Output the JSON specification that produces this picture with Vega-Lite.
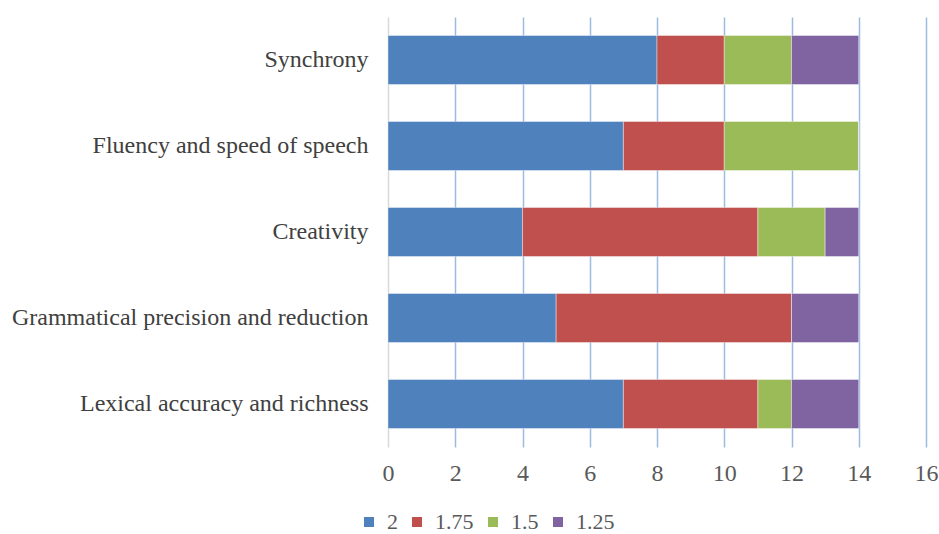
{
  "$schema": "https://vega.github.io/schema/vega-lite/v6.json",
  "width": 538,
  "height": 430,
  "autosize": "none",
  "padding": {"left": 388, "top": 17, "right": 13, "bottom": 87},
  "background": "white",
  "config": {"view": {"stroke": null}, "font": "Liberation Serif"},
  "data": {"values": [
    {"cat": "Synchrony", "series": "2", "s": 1, "v": 8},
    {"cat": "Synchrony", "series": "1.75", "s": 2, "v": 2},
    {"cat": "Synchrony", "series": "1.5", "s": 3, "v": 2},
    {"cat": "Synchrony", "series": "1.25", "s": 4, "v": 2},
    {"cat": "Fluency and speed of speech", "series": "2", "s": 1, "v": 7},
    {"cat": "Fluency and speed of speech", "series": "1.75", "s": 2, "v": 3},
    {"cat": "Fluency and speed of speech", "series": "1.5", "s": 3, "v": 4},
    {"cat": "Fluency and speed of speech", "series": "1.25", "s": 4, "v": 0},
    {"cat": "Creativity", "series": "2", "s": 1, "v": 4},
    {"cat": "Creativity", "series": "1.75", "s": 2, "v": 7},
    {"cat": "Creativity", "series": "1.5", "s": 3, "v": 2},
    {"cat": "Creativity", "series": "1.25", "s": 4, "v": 1},
    {"cat": "Grammatical precision and reduction", "series": "2", "s": 1, "v": 5},
    {"cat": "Grammatical precision and reduction", "series": "1.75", "s": 2, "v": 7},
    {"cat": "Grammatical precision and reduction", "series": "1.5", "s": 3, "v": 0},
    {"cat": "Grammatical precision and reduction", "series": "1.25", "s": 4, "v": 2},
    {"cat": "Lexical accuracy and richness", "series": "2", "s": 1, "v": 7},
    {"cat": "Lexical accuracy and richness", "series": "1.75", "s": 2, "v": 4},
    {"cat": "Lexical accuracy and richness", "series": "1.5", "s": 3, "v": 1},
    {"cat": "Lexical accuracy and richness", "series": "1.25", "s": 4, "v": 2}
  ]},
  "mark": {"type": "bar", "stroke": "white", "strokeOpacity": 0.4, "strokeWidth": 1},
  "encoding": {
    "y": {
      "field": "cat", "type": "nominal",
      "sort": ["Synchrony", "Fluency and speed of speech", "Creativity", "Grammatical precision and reduction", "Lexical accuracy and richness"],
      "scale": {"paddingInner": 0.43, "paddingOuter": 0.215},
      "axis": {"title": null, "domain": false, "ticks": false, "labelPadding": 20, "labelFontSize": 24, "labelColor": "#404040", "labelFont": "Liberation Serif", "labelLimit": 400}
    },
    "x": {
      "field": "v", "type": "quantitative", "stack": "zero",
      "scale": {"domain": [0, 16], "nice": false},
      "axis": {"title": null, "values": [0, 2, 4, 6, 8, 10, 12, 14, 16], "domain": false, "ticks": false, "labelPadding": 14, "labelFontSize": 24, "labelColor": "#595959", "labelFont": "Liberation Serif", "grid": true,
        "gridColor": {"condition": {"test": "datum.value === 0", "value": "#d9d9d9"}, "value": "#9dbbe1"}, "gridWidth": 1.5, "labelFlush": false}
    },
    "color": {
      "field": "series", "type": "nominal",
      "scale": {"domain": ["2", "1.75", "1.5", "1.25"], "range": ["#4f81bd", "#c0504d", "#9bbb59", "#8064a2"]},
      "legend": {"title": null, "orient": "none", "direction": "horizontal", "legendX": -30, "legendY": 494, "symbolType": "square", "symbolSize": 100, "symbolStrokeWidth": 0, "labelFontSize": 22, "labelColor": "#595959", "labelFont": "Liberation Serif", "columnPadding": 8, "labelOffset": 7}
    },
    "order": {"field": "s", "type": "quantitative"}
  }
}
